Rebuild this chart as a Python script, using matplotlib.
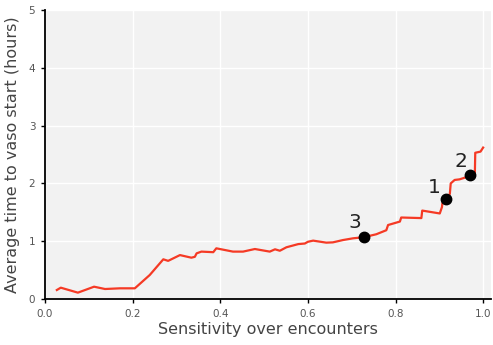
import matplotlib.pyplot as plt

# Sensitivity vs. mean lead time curve
sensitivity = [0.027, 0.036, 0.075, 0.112, 0.137, 0.171, 0.205, 0.239, 0.270, 0.281,
               0.308, 0.334, 0.342, 0.346, 0.357, 0.384, 0.391, 0.429, 0.452, 0.479,
               0.513, 0.525, 0.536, 0.551, 0.578, 0.593, 0.600, 0.612, 0.642, 0.657,
               0.680, 0.703, 0.728, 0.756, 0.779, 0.783, 0.810, 0.813, 0.859, 0.861,
               0.901, 0.906, 0.907, 0.916, 0.924, 0.926, 0.935, 0.946, 0.971, 0.981,
               0.982, 0.994, 1.000]
avg_time = [0.156, 0.196, 0.110, 0.213, 0.173, 0.185, 0.185, 0.415, 0.687, 0.660,
            0.760, 0.715, 0.730, 0.790, 0.820, 0.810, 0.877, 0.820, 0.820, 0.865,
            0.820, 0.860, 0.835, 0.895, 0.950, 0.960, 0.990, 1.010, 0.975, 0.980,
            1.020, 1.050, 1.070, 1.120, 1.190, 1.280, 1.340, 1.410, 1.400, 1.530,
            1.480, 1.590, 1.660, 1.730, 1.820, 2.000, 2.060, 2.070, 2.130, 2.140,
            2.530, 2.550, 2.620]

# operating points marked on the curve
point_labels = ["1", "2", "3"]
point_x = [0.916, 0.971, 0.728]
point_y = [1.73, 2.14, 1.07]

fig = plt.figure(figsize=(4.93, 3.45), dpi=100)
ax = fig.add_axes([0.0913, 0.1333, 0.9047, 0.8377])
ax.set_facecolor("#f2f2f2")
ax.grid(True, color="white", linewidth=1.0)
ax.set_axisbelow(True)

ax.plot(sensitivity, avg_time, color="#f53a25", linewidth=1.6, zorder=3)
ax.plot(point_x, point_y, "o", color="black", markersize=7.5, zorder=4)

# label placement (points) relative to each marker
label_shift = {"1": (-8.5, 8.5), "2": (-6.5, 10.0), "3": (-6.5, 10.5)}
for lab, px, py in zip(point_labels, point_x, point_y):
    ax.annotate(lab, (px, py), xytext=label_shift[lab], textcoords="offset points",
                ha="center", va="center", fontsize=14.5, color="#222222")

ax.set_xlim(0, 1.018)
ax.set_ylim(0, 5)
ax.set_xticks([0.0, 0.2, 0.4, 0.6, 0.8, 1.0])
ax.set_yticks([0, 1, 2, 3, 4, 5])

for side in ["top", "right"]:
    ax.spines[side].set_visible(False)
for side in ["left", "bottom"]:
    ax.spines[side].set_linewidth(1.3)
ax.tick_params(direction="out", length=3, width=1, labelsize=7.5,
               labelcolor="#555555", pad=4)

ax.set_xlabel("Sensitivity over encounters", fontsize=11.5, color="#444444", labelpad=2)
ax.set_ylabel("Average time to vaso start (hours)", fontsize=11.5, color="#444444", labelpad=6)

plt.savefig("out.png", dpi=100)
